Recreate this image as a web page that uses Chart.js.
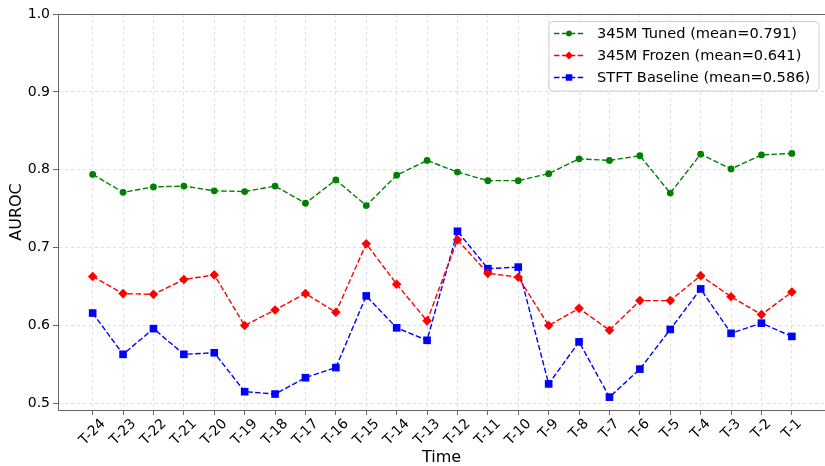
<!DOCTYPE html>
<html><head><meta charset="utf-8">
<script src="https://cdn.jsdelivr.net/npm/chart.js@4"></script>
<style>html,body{margin:0;padding:0;background:#fff;} canvas{display:block}</style>
</head><body>
<canvas id="c" width="825" height="466"></canvas>
<script>
const categories = ["T-24","T-23","T-22","T-21","T-20","T-19","T-18","T-17","T-16","T-15","T-14","T-13","T-12","T-11","T-10","T-9","T-8","T-7","T-6","T-5","T-4","T-3","T-2","T-1"];
const tuned    = [0.794,0.771,0.778,0.779,0.773,0.772,0.779,0.757,0.787,0.754,0.793,0.812,0.797,0.786,0.786,0.795,0.814,0.812,0.818,0.770,0.820,0.801,0.819,0.821];
const frozen   = [0.663,0.641,0.640,0.659,0.665,0.600,0.620,0.641,0.617,0.705,0.653,0.606,0.710,0.667,0.662,0.600,0.622,0.594,0.632,0.632,0.664,0.637,0.614,0.643];
const baseline = [0.616,0.563,0.596,0.563,0.565,0.515,0.512,0.533,0.546,0.638,0.597,0.581,0.721,0.673,0.675,0.525,0.579,0.508,0.544,0.595,0.647,0.590,0.603,0.586];
const seriesNames = ["345M Tuned (mean=0.791)","345M Frozen (mean=0.641)","STFT Baseline (mean=0.586)"];
const yTickValues = [0.5,0.6,0.7,0.8,0.9,1.0];

const FONT = "'DejaVu Sans', sans-serif";
const SPINE = '#666';
const toPts = arr => arr.map((v,i)=>({x:i,y:v}));

function drawMarker(ctx, style, x, y, r, color){
  ctx.save();
  ctx.fillStyle = color; ctx.strokeStyle = color; ctx.lineWidth = 1; ctx.setLineDash([]);
  ctx.beginPath();
  if (style === 'circle') { ctx.arc(x,y,r,0,Math.PI*2); }
  else if (style === 'rectRot') { ctx.moveTo(x,y-r); ctx.lineTo(x+r,y); ctx.lineTo(x,y+r); ctx.lineTo(x-r,y); ctx.closePath(); }
  else { const s = Math.SQRT1_2*r; ctx.rect(x-s,y-s,2*s,2*s); }
  ctx.fill();
  ctx.restore();
}

const decorPlugin = {
  id:'decor',
  afterDraw(chart){
    const ctx = chart.ctx;
    const ca = chart.chartArea;
    // top spine
    ctx.save();
    ctx.strokeStyle = SPINE; ctx.lineWidth = 1;
    ctx.beginPath(); ctx.moveTo(ca.left, ca.top+0.5); ctx.lineTo(ca.right, ca.top+0.5); ctx.stroke();
    ctx.restore();
    // x tick labels, rotated 45deg and centred on the tick (matplotlib style)
    const xs = chart.scales.x;
    ctx.save();
    ctx.fillStyle = '#000'; ctx.font = '14px ' + FONT;
    ctx.textAlign = 'center'; ctx.textBaseline = 'middle';
    categories.forEach((lab,i)=>{
      const px = xs.getPixelForValue(i);
      const w = ctx.measureText(lab).width;
      const half = (w + 9) * Math.SQRT1_2 / 2;
      ctx.save();
      ctx.translate(px, 418.5 + half);
      ctx.rotate(-Math.PI/4);
      ctx.fillText(lab, 0, 0);
      ctx.restore();
    });
    ctx.restore();
    // legend box
    const bx = 549, by = 21.5, bw = 270, bh = 69.5, rad = 4;
    ctx.save();
    ctx.fillStyle = 'rgba(255,255,255,0.8)';
    ctx.strokeStyle = '#d0d0d0'; ctx.lineWidth = 1;
    ctx.beginPath();
    ctx.moveTo(bx+rad,by); ctx.lineTo(bx+bw-rad,by); ctx.quadraticCurveTo(bx+bw,by,bx+bw,by+rad);
    ctx.lineTo(bx+bw,by+bh-rad); ctx.quadraticCurveTo(bx+bw,by+bh,bx+bw-rad,by+bh);
    ctx.lineTo(bx+rad,by+bh); ctx.quadraticCurveTo(bx,by+bh,bx,by+bh-rad);
    ctx.lineTo(bx,by+rad); ctx.quadraticCurveTo(bx,by,bx+rad,by);
    ctx.closePath(); ctx.fill(); ctx.stroke();
    chart.data.datasets.forEach((ds,i)=>{
      const y = 33.5 + i*22;
      ctx.save();
      ctx.strokeStyle = ds.borderColor; ctx.lineWidth = ds.borderWidth; ctx.setLineDash(ds.borderDash);
      ctx.beginPath(); ctx.moveTo(554,y); ctx.lineTo(584,y); ctx.stroke();
      ctx.restore();
      drawMarker(ctx, ds.pointStyle, 569, y, ds.pointRadius*0.85, ds.borderColor);
      ctx.fillStyle = '#000'; ctx.font = '14.6px ' + FONT; ctx.textBaseline = 'middle'; ctx.textAlign = 'left';
      ctx.fillText(ds.label, 597, y+1);
    });
    ctx.restore();
  }
};

const mk = (label, data, color, style, r) => ({
  label, data: toPts(data), borderColor: color, backgroundColor: color,
  borderWidth: 1.4, borderDash: [5.5,2.4], pointStyle: style, pointRadius: r,
  pointHoverRadius: r, pointBorderWidth: 0, tension: 0, fill: false, clip: false
});

new Chart(document.getElementById('c'), {
  type: 'line',
  data: { datasets: [
    mk(seriesNames[0], tuned, '#008000', 'circle', 3.4),
    mk(seriesNames[1], frozen, '#ff0000', 'rectRot', 4.8),
    mk(seriesNames[2], baseline, '#0000ff', 'rect', 5.4)
  ]},
  options: {
    responsive: false, animation: false,
    layout: { autoPadding: false, padding: { top: 14, right: 0, left: 0, bottom: 0 } },
    plugins: { legend: { display: false }, tooltip: { enabled: false } },
    scales: {
      x: {
        type: 'linear', min: -1.14, max: 24.09,
        afterFit(s){ s.height = 56; s.paddingLeft = 0; s.paddingRight = 0; },
        afterBuildTicks(s){ s.ticks = categories.map((c,i)=>({value:i})); },
        ticks: { display: false, autoSkip: false },
        grid: { color: 'rgba(176,176,176,0.5)', lineWidth: 0.8, tickColor: SPINE, tickLength: 5, tickWidth: 1 },
        border: { display: true, color: SPINE, width: 1, dash: [3,3] },
        title: { display: true, text: 'Time', color: '#000', padding: { top: 0, bottom: 0 }, font: { family: FONT, size: 16, lineHeight: 1 } }
      },
      y: {
        min: 0.4915, max: 1.0,
        afterFit(s){ s.width = 58; },
        afterBuildTicks(s){ s.ticks = yTickValues.map(v=>({value:v})); },
        ticks: { color: '#000', padding: 3, font: { family: FONT, size: 14 }, callback: v => v.toFixed(1) },
        grid: { color: 'rgba(176,176,176,0.5)', lineWidth: 0.8, tickColor: SPINE, tickLength: 5, tickWidth: 1 },
        border: { display: true, color: SPINE, width: 1, dash: [3,3] },
        title: { display: true, text: 'AUROC', color: '#000', padding: { top: 7, bottom: 0 }, font: { family: FONT, size: 16 } }
      }
    }
  },
  plugins: [decorPlugin]
});
</script>
</body></html>
